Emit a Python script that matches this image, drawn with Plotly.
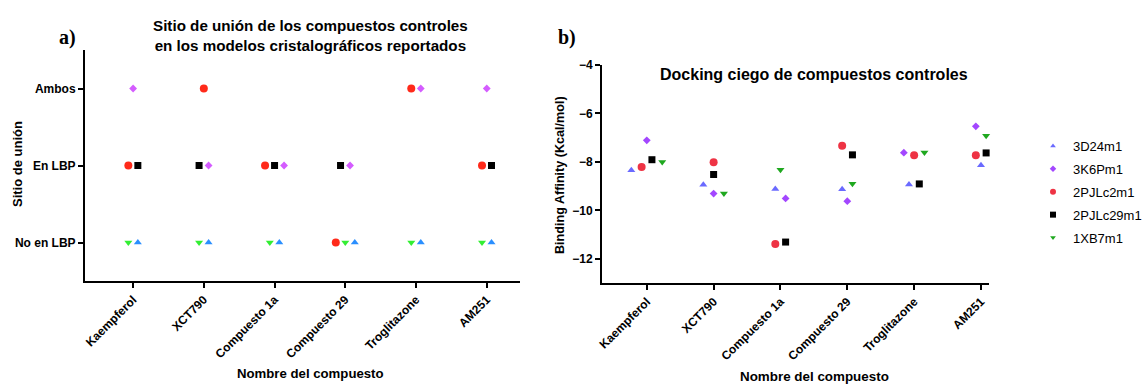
import plotly.graph_objects as go

# ---------------- data ----------------
compounds = ["Kaempferol", "XCT790", "Compuesto 1a", "Compuesto 29", "Troglitazone", "AM251"]
site_labels = ["No en LBP", "En LBP", "Ambos"]  # 0, 1, 2

series_names = ["3D24m1", "3K6Pm1", "2PJLc2m1", "2PJLc29m1", "1XB7m1"]

# panel a) binding site (0 = No en LBP, 1 = En LBP, 2 = Ambos)
site_3D24m1 = [0, 0, 0, 0, 0, 0]
site_3K6Pm1 = [2, 1, 1, 1, 2, 2]
site_2PJLc2m1 = [1, 2, 1, 0, 2, 1]
site_2PJLc29m1 = [1, 1, 1, 1, None, 1]
site_1XB7m1 = [0, 0, 0, 0, 0, 0]

# panel b) binding affinity (Kcal/mol)
aff_3D24m1 = [-8.35, -8.94, -9.12, -9.13, -8.93, -8.14]
aff_3K6Pm1 = [-7.11, -9.31, -9.51, -9.62, -7.62, -6.53]
aff_2PJLc2m1 = [-8.21, -8.02, -11.39, -7.33, -7.73, -7.73]
aff_2PJLc29m1 = [-7.91, -8.52, -11.31, -7.71, -8.91, -7.63]
aff_1XB7m1 = [-8.00, -9.31, -8.32, -8.90, -7.61, -6.92]

aff_ticks = [-4, -6, -8, -10, -12]

site_data = [site_3D24m1, site_3K6Pm1, site_2PJLc2m1, site_2PJLc29m1, site_1XB7m1]
aff_data = [aff_3D24m1, aff_3K6Pm1, aff_2PJLc2m1, aff_2PJLc29m1, aff_1XB7m1]

# ---------------- styles ----------------
symbols = ["triangle-up", "diamond", "circle", "square", "triangle-down"]
sizes = [7, 6, 8, 7, 7]
legend_sizes = [5, 5, 6, 6, 5]
colors_a = ["#2a8fff", "#d45cff", "#ff2a1a", "#000000", "#33ee33"]
colors_b = ["#6a6aff", "#a347ff", "#ee3344", "#000000", "#1fa81f"]

W, H = 1146, 385
FONT = "Liberation Sans, Arial, sans-serif"


def dodge(values_by_series, order, step, thresh):
    """Spread overlapping points of each category horizontally (symmetric clusters)."""
    n_cat = len(values_by_series[0])
    offs = [[0.0] * n_cat for _ in values_by_series]
    for c in range(n_cat):
        pts = [(values_by_series[s][c], s) for s in range(len(values_by_series))
               if values_by_series[s][c] is not None]
        pts.sort()
        clusters, cur = [], [pts[0]]
        for p in pts[1:]:
            if p[0] - cur[-1][0] < thresh:
                cur.append(p)
            else:
                clusters.append(cur)
                cur = [p]
        clusters.append(cur)
        for cl in clusters:
            members = sorted([s for _, s in cl], key=lambda s: order.index(s))
            k = len(members)
            for i, s in enumerate(members):
                offs[s][c] = (i - (k - 1) / 2) * step
    return offs


# panel geometry (pixels)
A_X0, A_X1, A_Y0, A_Y1 = 85, 520, 50, 281
B_X0, B_X1, B_Y0, B_Y1 = 602, 989, 65, 283
A_XR = [0.32, 6.47]
B_XR = [0.33, 6.12]
a_px_per_unit = (A_X1 - A_X0) / (A_XR[1] - A_XR[0])
b_px_per_unit = (B_X1 - B_X0) / (B_XR[1] - B_XR[0])

offs_a = dodge(site_data, order=[2, 3, 1, 4, 0], step=9.5 / a_px_per_unit, thresh=0.01)
offs_b = dodge(aff_data, order=[0, 1, 2, 3, 4], step=10.3 / b_px_per_unit, thresh=0.40)

fig = go.Figure()
xpos = list(range(1, len(compounds) + 1))
for s, name in enumerate(series_names):
    fig.add_trace(go.Scatter(
        x=[xpos[c] + offs_a[s][c] for c in range(len(compounds))],
        y=site_data[s], mode="markers", name=name, showlegend=False, cliponaxis=False,
        marker=dict(symbol=symbols[s], size=sizes[s], color=colors_a[s], line=dict(width=0)),
        xaxis="x", yaxis="y"))
for s, name in enumerate(series_names):
    fig.add_trace(go.Scatter(
        x=[xpos[c] + offs_b[s][c] for c in range(len(compounds))],
        y=aff_data[s], mode="markers", name=name, showlegend=False, cliponaxis=False,
        marker=dict(symbol=symbols[s], size=sizes[s], color=colors_b[s], line=dict(width=0)),
        xaxis="x2", yaxis="y2"))
# legend entries (smaller symbols, as in the reference legend)
for s, name in enumerate(series_names):
    fig.add_trace(go.Scatter(
        x=[None], y=[None], mode="markers", name=name, showlegend=True, legendgroup=name,
        marker=dict(symbol=symbols[s], size=legend_sizes[s], color=colors_b[s], line=dict(width=0)),
        xaxis="x2", yaxis="y2"))

axis_common = dict(showgrid=False, zeroline=False, showline=True, linecolor="black", linewidth=2,
                   ticks="outside", ticklen=5, tickwidth=2, tickcolor="black", automargin=False,
                   tickfont=dict(family=FONT, size=12, color="black", weight="bold"))

fig.update_layout(
    template="none",
    width=W, height=H, margin=dict(l=0, r=0, t=0, b=0, autoexpand=False),
    paper_bgcolor="white", plot_bgcolor="white",
    xaxis=dict(domain=[A_X0 / W, A_X1 / W], range=A_XR, tickvals=xpos, ticktext=compounds,
               tickangle=-45, anchor="y", **axis_common),
    yaxis=dict(domain=[1 - A_Y1 / H, 1 - A_Y0 / H], range=[-0.5, 2.5], tickvals=[0, 1, 2],
               ticktext=site_labels, anchor="x", **axis_common),
    xaxis2=dict(domain=[B_X0 / W, B_X1 / W], range=B_XR, tickvals=xpos, ticktext=compounds,
                tickangle=-45, anchor="y2", **axis_common),
    yaxis2=dict(domain=[1 - B_Y1 / H, 1 - B_Y0 / H], range=[-13, -4], tickvals=aff_ticks,
                anchor="x2", **axis_common),
    legend=dict(x=1033 / W, y=1 - 131 / H, xanchor="left", yanchor="top",
                font=dict(family=FONT, size=13, color="black"), tracegroupgap=3,
                bgcolor="rgba(0,0,0,0)", borderwidth=0),
    font=dict(family=FONT, color="black"),
)

def ann(text, x, y, size, bold=True, angle=0, family=FONT):
    fig.add_annotation(text=text, x=x / W, y=1 - y / H, xref="paper", yref="paper",
                       showarrow=False, textangle=angle, xanchor="center", yanchor="middle",
                       font=dict(family=family, size=size, color="black",
                                 weight="bold" if bold else "normal"))

ann("Sitio de unión de los compuestos controles<br>en los modelos cristalográficos reportados",
    310, 35, 15.2)
ann("a)", 67, 37, 20, family="Liberation Serif, Times New Roman, serif")
ann("b)", 567, 37, 20, family="Liberation Serif, Times New Roman, serif")
ann("Docking ciego de compuestos controles", 814, 74, 16)
ann("Sitio de unión", 18, 164, 13, angle=-90)
ann("Binding Affinity (Kcal/mol)", 560, 175, 12.6, angle=-90)
ann("Nombre del compuesto", 310, 373, 13.2)
ann("Nombre del compuesto", 814, 376, 13.4)

fig.write_html("out.html")
